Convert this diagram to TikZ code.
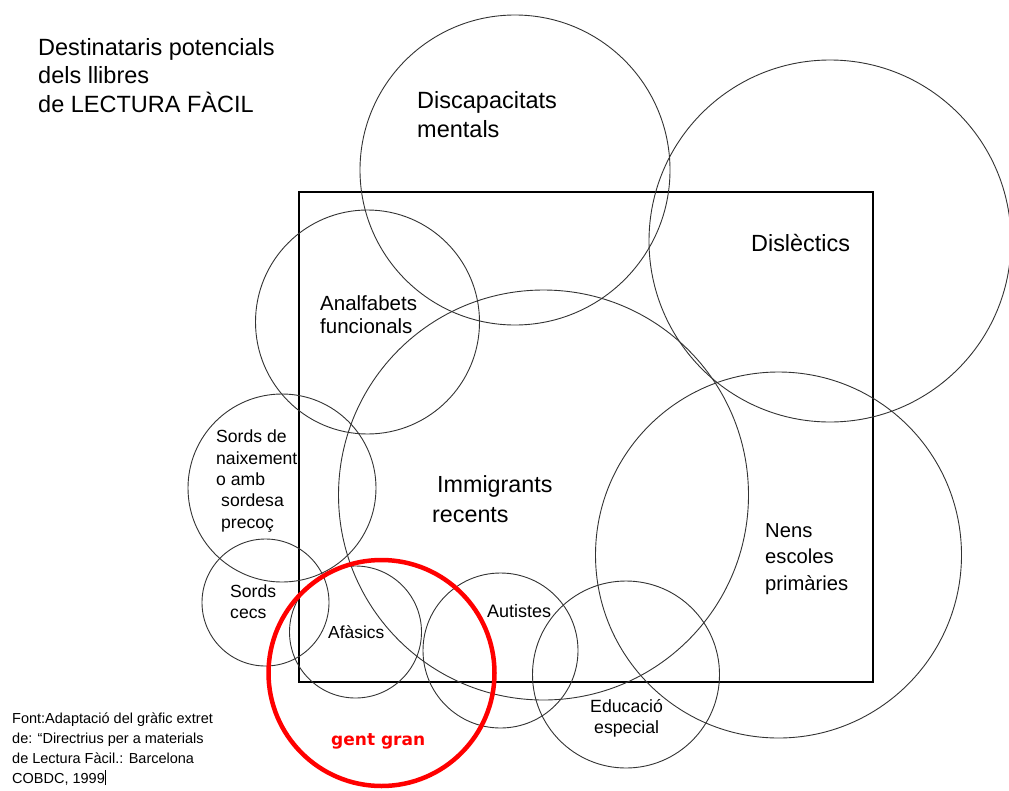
\documentclass[tikz,border=0pt]{standalone}
\usepackage{fontspec}
\setmainfont{Liberation Sans}
\newfontfamily\ggfont{DejaVu Sans}
\tikzset{
  ring/.style={draw=black!80, line width=0.9pt},
  frame/.style={draw=black, line width=1.4pt},
  redring/.style={draw=red, line width=4.5pt},
  lbl/.style={anchor=base west, inner sep=0pt, align=left},
}
\newcommand{\fs}[2]{\fontsize{#1}{#2}\selectfont}
\begin{document}
\begin{tikzpicture}[x=1pt,y=-1pt]
\useasboundingbox[fill=white] (0,0) rectangle (1009,790);
% frame
\draw[frame] (299,192) rectangle (873,682);
% circles
\draw[ring] (515,170) circle (155);
\draw[ring] (830,241) circle (181);
\draw[ring] (367.5,322) circle (112);
\draw[ring] (543.5,495) circle (205);
\draw[ring] (778.5,555) circle (183);
\draw[ring] (282,488) circle (94);
\draw[ring] (265.5,602.5) circle (63.5);
\draw[ring] (355.5,632) circle (66);
\draw[ring] (500.5,650.5) circle (77.5);
\draw[ring] (626,674.5) circle (93.5);
\draw[redring] (381.5,673) circle (113);
% labels (base = baseline of last line)
\node[lbl, font=\fs{23.5}{28.5}] (title) at (38,112) {Destinataris potencials\\dels llibres\\de LECTURA FÀCIL};
\node[lbl, font=\fs{23.5}{29}] (disc) at (417,137) {Discapacitats\\mentals};
\node[lbl, font=\fs{23.4}{29}] (disl) at (751,251) {Dislèctics};
\node[lbl, font=\fs{20.5}{23}] (anal) at (320,333) {Analfabets\\funcionals};
\node[lbl, font=\fs{23.3}{30}] (immi) at (437,492) {Immigrants};
\node[lbl, font=\fs{23.3}{30}] (rece) at (432,522) {recents};
\node[lbl, font=\fs{20.2}{26.5}] (nens) at (765,590) {Nens\\escoles\\primàries};
\node[lbl, font=\fs{17.6}{21.3}] (sord) at (216,528) {Sords de\\naixement\\o amb\\\hspace*{5pt}sordesa\\\hspace*{5pt}precoç};
\node[lbl, font=\fs{17.6}{20.5}] (cecs) at (230,618) {Sords\\cecs};
\node[lbl, font=\fs{17.4}{21}] (afas) at (328,638) {Afàsics};
\node[lbl, font=\fs{18}{21}] (auti) at (487,617) {Autistes};
\node[lbl, font=\fs{17.7}{20.5}] (educ) at (590,733) {Educació\\\hspace*{4pt}especial};
\node[lbl, font=\ggfont\bfseries\fs{17}{20}, text=red] (gent) at (331,745) {gent gran};
\node[lbl, font=\fs{14.5}{20}] (font) at (12,783) {Font:Adaptació del gràfic extret\\de: “Directrius per a materials\\de Lectura Fàcil.: Barcelona\\COBDC, 1999\rule[-2pt]{0.8pt}{15pt}};
\end{tikzpicture}
\end{document}
